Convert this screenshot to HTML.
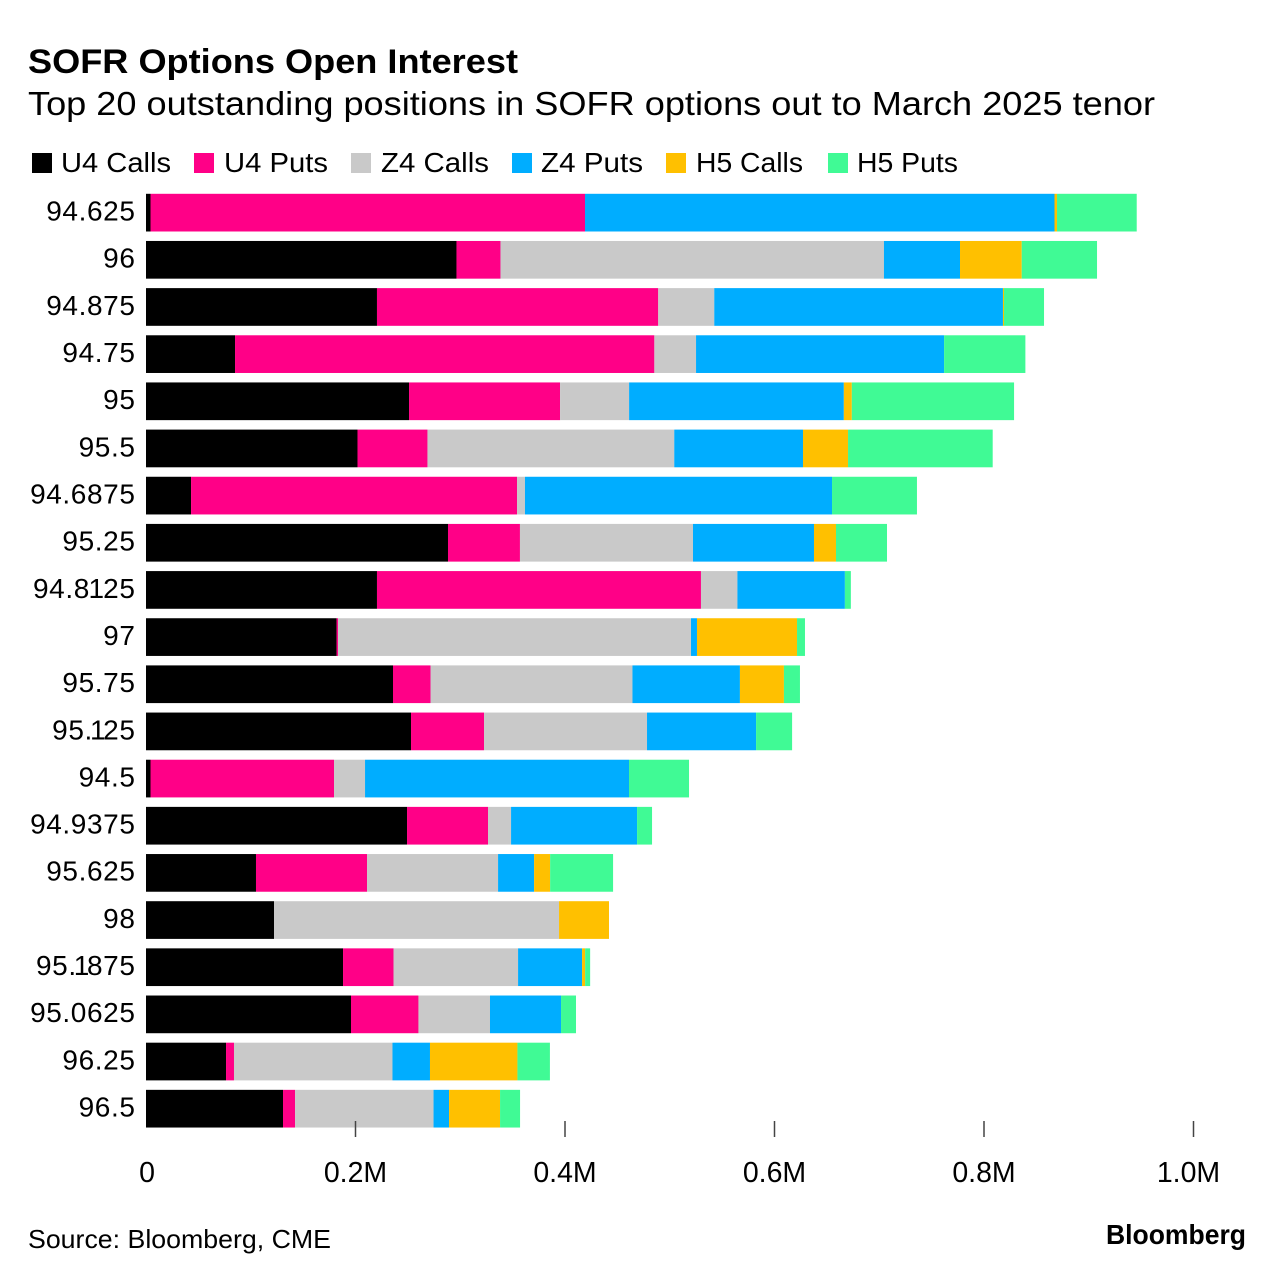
<!DOCTYPE html>
<html lang="en">
<head>
<meta charset="utf-8">
<title>SOFR Options Open Interest</title>
<style>
html,body{margin:0;padding:0;background:#fff;}
svg{display:block;}
text{font-family:"Liberation Sans",sans-serif;fill:#000;}
</style>
</head>
<body>
<svg id="chart" width="1285" height="1280" viewBox="0 0 1285 1280" xmlns="http://www.w3.org/2000/svg">
  <rect x="0" y="0" width="1285" height="1280" fill="#fff"/>
  <text x="28" y="73" font-size="34" font-weight="700" textLength="490" lengthAdjust="spacingAndGlyphs">SOFR Options Open Interest</text>
  <text x="28" y="115" font-size="33" textLength="1127" lengthAdjust="spacingAndGlyphs">Top 20 outstanding positions in SOFR options out to March 2025 tenor</text>

  <g>
    <g>
      <rect x="32" y="153" width="20" height="20" fill="#000000"/>
      <text x="61" y="172" font-size="28" textLength="110" lengthAdjust="spacingAndGlyphs">U4 Calls</text>
    </g>
    <g>
      <rect x="194" y="153" width="20" height="20" fill="#ff0087"/>
      <text x="224" y="172" font-size="28" textLength="104" lengthAdjust="spacingAndGlyphs">U4 Puts</text>
    </g>
    <g>
      <rect x="351" y="153" width="20" height="20" fill="#c9c9c9"/>
      <text x="381" y="172" font-size="28" textLength="108" lengthAdjust="spacingAndGlyphs">Z4 Calls</text>
    </g>
    <g>
      <rect x="512" y="153" width="20" height="20" fill="#00adff"/>
      <text x="541" y="172" font-size="28" textLength="102" lengthAdjust="spacingAndGlyphs">Z4 Puts</text>
    </g>
    <g>
      <rect x="666" y="153" width="20" height="20" fill="#ffc000"/>
      <text x="696" y="172" font-size="28" textLength="107" lengthAdjust="spacingAndGlyphs">H5 Calls</text>
    </g>
    <g>
      <rect x="828" y="153" width="20" height="20" fill="#40fa95"/>
      <text x="857" y="172" font-size="28" textLength="101" lengthAdjust="spacingAndGlyphs">H5 Puts</text>
    </g>
  </g>

  <g id="y-axis"></g>
  <g id="bars"></g>
  <g id="x-axis"></g>

  <text x="28" y="1248" font-size="26" textLength="303" lengthAdjust="spacingAndGlyphs">Source: Bloomberg, CME</text>
  <text x="1106" y="1244" font-size="28" font-weight="700" textLength="140" lengthAdjust="spacingAndGlyphs">Bloomberg</text>
</svg>
<script>
// Open interest per strike, in thousands of contracts
var categories = ["94.625","96","94.875","94.75","95","95.5","94.6875","95.25","94.8125","97","95.75","95.125","94.5","94.9375","95.625","98","95.1875","95.0625","96.25","96.5"];
var u4Calls = [4.3,296.4,220.5,85.0,251.1,201.9,43.0,288.3,220.5,181.9,235.8,253.0,4.3,249.2,105.0,122.2,188.1,195.7,76.4,130.8];
var u4Puts  = [414.8,42.0,268.5,400.3,144.2,66.8,311.2,68.7,309.3,1.4,35.8,69.7,175.2,77.3,106.0,0,48.2,64.4,7.6,11.5];
var z4Calls = [0,366.1,53.5,39.8,65.9,235.6,7.6,165.2,34.8,337.0,192.8,155.6,29.6,22.0,125.1,272.1,118.9,68.3,151.3,132.2];
var z4Puts  = [448.2,72.6,275.6,236.8,205.0,122.9,293.1,115.5,102.6,5.7,102.6,104.1,252.0,120.3,34.4,0,61.1,67.8,35.8,14.8];
var h5Calls = [2.4,58.9,1.0,0,7.6,43.0,0,21.0,0,95.5,42.0,0,0,0,15.3,47.7,2.9,0,83.5,48.7];
var h5Puts  = [76.1,71.9,38.2,77.6,154.9,138.1,81.1,48.7,5.7,7.6,15.3,34.4,57.3,14.3,60.1,0,4.8,14.3,31.0,19.1];
var tickValues = [0,200,400,600,800,1000];
var tickLabels = ["0","0.2M","0.4M","0.6M","0.8M","1.0M"];

var seriesValues = [u4Calls,u4Puts,z4Calls,z4Puts,h5Calls,h5Puts];
var seriesKeys = ["u4-calls","u4-puts","z4-calls","z4-puts","h5-calls","h5-puts"];
var seriesColors = ["#000000","#ff0087","#c9c9c9","#00adff","#ffc000","#40fa95"];

var NS = "http://www.w3.org/2000/svg";
function xScale(v){ return 146 + v * 1.0475; }
function yScale(i){ return 193.8 + i * 47.16; }
var BAR_H = 37.7;

// The reference face sets the digit 1 narrower than Liberation does.
function oneTightening(text){
  var shifts = [];
  for (var c = 0; c < text.length; c++) {
    var shift = 0;
    if (text[c] === "1") {
      shift = text[c - 1] === "." ? -3 : -1.5;
    } else if (text[c - 1] === "1") {
      shift = text[c - 2] === "." ? -3 : -1.5;
    }
    shifts.push(shift);
  }
  return shifts.join(" ");
}

var barsG = document.getElementById("bars");
var yG = document.getElementById("y-axis");
var xG = document.getElementById("x-axis");

categories.forEach(function(cat, i){
  var label = document.createElementNS(NS, "text");
  
  
  label.setAttribute("x", 135.5);
  label.setAttribute("y", yScale(i) + 26.7);
  label.setAttribute("font-size", "28");
  label.setAttribute("letter-spacing", "0.6");
  label.setAttribute("text-anchor", "end");
  if (cat.indexOf("1") >= 0) {
    label.setAttribute("dx", oneTightening(cat));
  }
  label.textContent = cat;
  yG.appendChild(label);

  var group = document.createElementNS(NS, "g");
  
  
  var cum = 0;
  seriesValues.forEach(function(vals, s){
    var v = vals[i];
    var r = document.createElementNS(NS, "rect");
    
    
    r.setAttribute("data-series", seriesKeys[s]);
    r.setAttribute("x", xScale(cum));
    r.setAttribute("y", yScale(i));
    r.setAttribute("width", xScale(cum + v) - xScale(cum));
    r.setAttribute("height", BAR_H);
    r.setAttribute("fill", seriesColors[s]);
    group.appendChild(r);
    cum += v;
  });
  barsG.appendChild(group);
});

tickValues.forEach(function(t, i){
  if (t !== 0) {
    var line = document.createElementNS(NS, "line");
    
    
    line.setAttribute("x1", xScale(t));
    line.setAttribute("x2", xScale(t));
    line.setAttribute("y1", 1121);
    line.setAttribute("y2", 1137);
    line.setAttribute("stroke", "#444");
    line.setAttribute("stroke-width", "1.5");
    xG.appendChild(line);
  }
  var lab = document.createElementNS(NS, "text");
  
  
  // first label nudges right of the axis origin, last one pulls in from the plot edge
  var nudge = i === 0 ? 1 : (i === tickValues.length - 1 ? -5 : 0);
  lab.setAttribute("x", xScale(t) + nudge);
  lab.setAttribute("y", 1182);
  lab.setAttribute("font-size", "28.5");
  lab.setAttribute("text-anchor", "middle");
  lab.textContent = tickLabels[i];
  xG.appendChild(lab);
});
</script>
</body>
</html>
